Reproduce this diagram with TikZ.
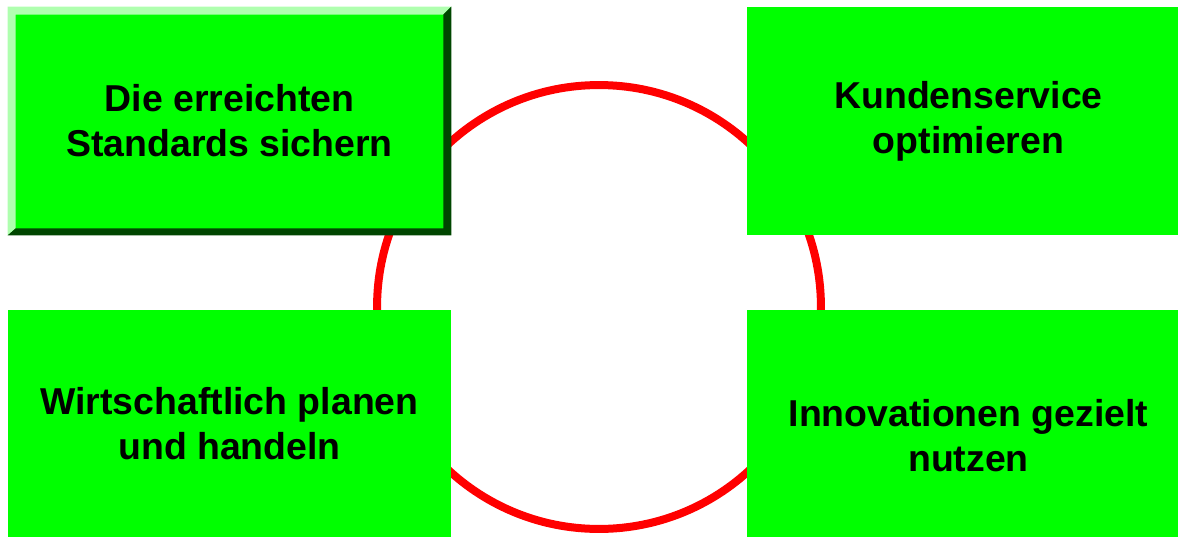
\documentclass[tikz,border=0pt]{standalone}
\usepackage{fontspec}
\setmainfont{Liberation Sans}
\usetikzlibrary{positioning}

\definecolor{boxgreen}{RGB}{0,255,0}
\definecolor{bevellight}{RGB}{175,255,175}
\definecolor{beveldark}{RGB}{0,70,0}

\begin{document}
\begin{tikzpicture}[
        x=0.02cm, y=-0.02cm,
        box/.style={rectangle, fill=boxgreen, minimum width=8.86cm, minimum height=4.56cm, inner sep=0pt, align=center, font={\fontsize{21.3}{25.6}\selectfont\bfseries}},
        txt/.style={align=center, inner sep=0pt, font={\fontsize{21.3}{25.6}\selectfont\bfseries}},
        ring/.style={circle, draw=red, line width=0.16cm, minimum size=8.88cm, inner sep=0pt}
    ]
        \useasboundingbox (0,0) rectangle (1178,538);

        % Ring in the middle
        \node[ring] (ring) at (599,307) {};

        % Upper boxes
        \node[box] (sichern) at (229.5,121) {Die erreichten\\Standards sichern};
        \node[box] (kunden) at (968.5,121) {Kundenservice\\optimieren};

        % Bevel of the first box
        \fill[bevellight] (sichern.south west) -- (sichern.north west) -- (sichern.north east)
            -- ([shift={(-8,8)}]sichern.north east) -- ([shift={(8,8)}]sichern.north west)
            -- ([shift={(8,-7)}]sichern.south west) -- cycle;
        \fill[beveldark] (sichern.south west) -- (sichern.south east) -- (sichern.north east)
            -- ([shift={(-8,8)}]sichern.north east) -- ([shift={(-8,-7)}]sichern.south east)
            -- ([shift={(8,-7)}]sichern.south west) -- cycle;

        % Lower boxes
        \node[box] (planen) at (229.5,423.5) {Wirtschaftlich planen\\und handeln};
        \node[box] (innov) at (968.5,423.5) {};
        \node[txt] (innovtext) at ([yshift=-0.25cm]innov.center) {Innovationen gezielt\\nutzen};
    \end{tikzpicture}
\end{document}
